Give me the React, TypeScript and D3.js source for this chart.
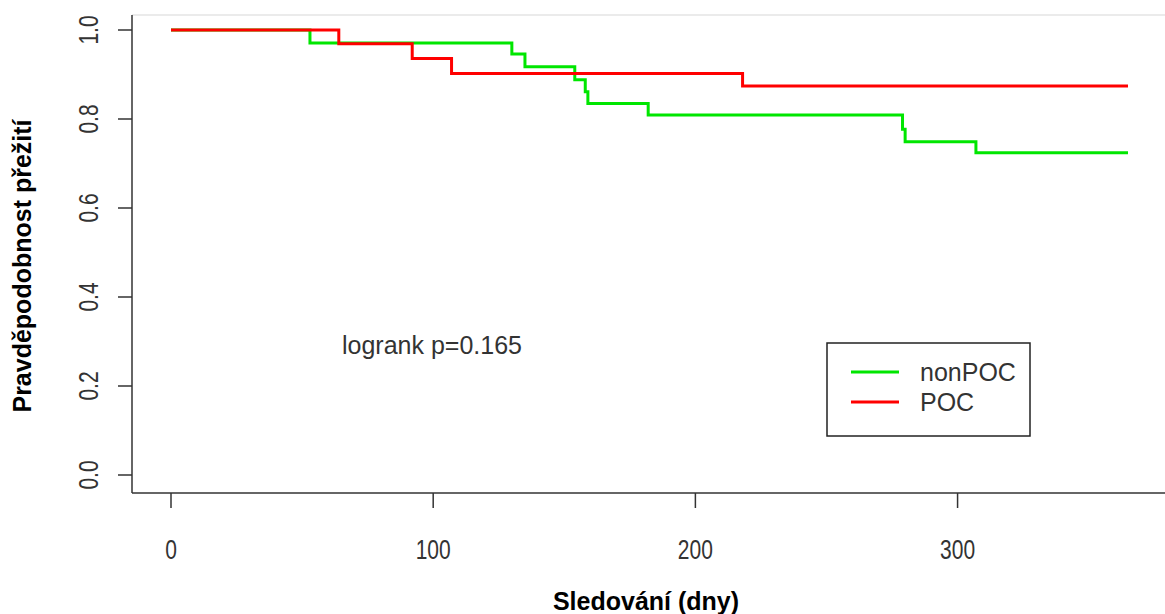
import React, { useEffect, useRef } from 'react';
import * as d3 from 'd3';

// Kaplan-Meier steps
const nonPocTime = [0, 53, 130, 135, 154, 158, 159, 182, 279, 280, 307, 365];
const nonPocSurv = [1, 0.971, 0.946, 0.9175, 0.888, 0.861, 0.835, 0.809, 0.777, 0.749, 0.724, 0.724];
const pocTime = [0, 64, 92, 107, 218, 365];
const pocSurv = [1, 0.969, 0.936, 0.902, 0.874, 0.874];

const xTicks = [0, 100, 200, 300];
const yTicks = [0, 0.2, 0.4, 0.6, 0.8, 1.0];
const legendLabels = ['nonPOC', 'POC'];
const legendColors = ['#00e600', '#ff0000'];

export default function App() {
  const svgRef = useRef<SVGSVGElement>(null);

  useEffect(() => {
    document.body.style.margin = '0';
    const w = 1165;
    const h = 614;
    const svg = d3.select(svgRef.current).attr('width', w).attr('height', h);
    svg.selectAll('*').remove();

    const x = d3.scaleLinear().domain([0, 365]).range([171, 1128]);
    const y = d3.scaleLinear().domain([0, 1]).range([475, 30]);

    const left = 132, top = 15, bottom = 493, right = 1166;
    const font = 'Liberation Sans, Arial, sans-serif';

    // frame
    svg.append('line').attr('x1', left).attr('x2', right).attr('y1', top).attr('y2', top)
      .attr('stroke', '#e4e4e4').attr('stroke-width', 1.5);
    svg.append('line').attr('x1', left).attr('x2', left).attr('y1', top).attr('y2', bottom)
      .attr('stroke', '#333').attr('stroke-width', 1.5);
    svg.append('line').attr('x1', left).attr('x2', right).attr('y1', bottom).attr('y2', bottom)
      .attr('stroke', '#333').attr('stroke-width', 1.5);

    // x axis ticks
    const gx = svg.append('g');
    xTicks.forEach(t => {
      gx.append('line').attr('x1', x(t)).attr('x2', x(t)).attr('y1', bottom).attr('y2', bottom + 15)
        .attr('stroke', '#333').attr('stroke-width', 1.5);
      gx.append('text').attr('x', x(t)).attr('y', 559)
        .attr('text-anchor', 'middle').attr('font-family', font).attr('font-size', 28)
        .attr('fill', '#333')
        .attr('transform', `translate(${x(t)},0) scale(0.75,1) translate(${-x(t)},0)`)
        .text(t);
    });

    // y axis ticks
    const gy = svg.append('g');
    yTicks.forEach(t => {
      gy.append('line').attr('x1', left - 14).attr('x2', left).attr('y1', y(t)).attr('y2', y(t))
        .attr('stroke', '#333').attr('stroke-width', 1.5);
      gy.append('text')
        .attr('transform', `translate(98,${y(t)}) rotate(-90) scale(0.75,1)`)
        .attr('text-anchor', 'middle').attr('font-family', font).attr('font-size', 28)
        .attr('fill', '#333')
        .text(t.toFixed(1));
    });

    // axis titles
    svg.append('text').attr('x', 646).attr('y', 610).attr('text-anchor', 'middle')
      .attr('font-family', font).attr('font-size', 25).attr('font-weight', 'bold')
      .text('Sledování (dny)');
    svg.append('text')
      .attr('transform', 'translate(31,266) rotate(-90)')
      .attr('text-anchor', 'middle').attr('font-family', font).attr('font-size', 25)
      .attr('font-weight', 'bold')
      .text('Pravděpodobnost přežití');

    const line = d3.line<[number, number]>()
      .x(d => x(d[0]))
      .y(d => y(d[1]))
      .curve(d3.curveStepAfter);

    const series = [
      nonPocTime.map((t, i) => [t, nonPocSurv[i]] as [number, number]),
      pocTime.map((t, i) => [t, pocSurv[i]] as [number, number]),
    ];
    series.forEach((s, i) => {
      svg.append('path').datum(s)
        .attr('fill', 'none').attr('stroke', legendColors[i]).attr('stroke-width', 3)
        .attr('d', line);
    });

    // annotation
    svg.append('text').attr('x', 342).attr('y', 354)
      .attr('font-family', font).attr('font-size', 25).attr('fill', '#333')
      .text('logrank p=0.165');

    // legend
    const lg = svg.append('g');
    lg.append('rect').attr('x', 827).attr('y', 343).attr('width', 203).attr('height', 93)
      .attr('fill', 'white').attr('stroke', '#222').attr('stroke-width', 1.5);
    legendLabels.forEach((lab, i) => {
      const ly = 372 + i * 30;
      lg.append('line').attr('x1', 851).attr('x2', 899).attr('y1', ly).attr('y2', ly)
        .attr('stroke', legendColors[i]).attr('stroke-width', 3);
      lg.append('text').attr('x', 920).attr('y', ly + 9)
        .attr('font-family', font).attr('font-size', 25).attr('fill', '#333')
        .text(lab);
    });
  }, []);

  return <svg ref={svgRef} style={{ display: 'block' }} />;
}
